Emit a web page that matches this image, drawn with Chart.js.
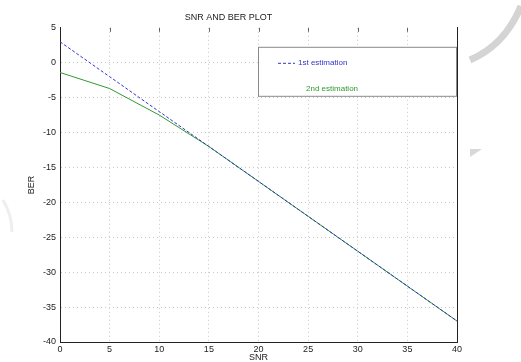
<!DOCTYPE html>
<html>
<head>
<meta charset="utf-8">
<script src="https://cdn.jsdelivr.net/npm/chart.js@4/dist/chart.umd.min.js"></script>
<style>
  html, body { margin: 0; padding: 0; background: #fff; }
  #wrap { width: 521px; height: 362px; }
</style>
</head>
<body>
<div id="wrap"><canvas id="berChart"></canvas></div>
<script>
const snr = [0, 5, 10, 15, 20, 25, 30, 35, 40];
const firstEst = [3, -2, -7, -12, -17, -22, -27, -32, -37];
const secondEst = [-1.4, -3.7, -7.5, -12, -17, -22, -27, -32, -37];
const seriesNames = ["1st estimation", "2nd estimation"];

const FONT = "'Liberation Sans', Arial, sans-serif";
const GRID = "#c8c8c8";

// faint scanned-page watermark behind the plot
const watermark = {
  id: "watermark",
  beforeDraw(chart) {
    const c = chart.ctx;
    c.save();
    c.fillStyle = "#fff";
    c.fillRect(0, 0, chart.width, chart.height);
    c.strokeStyle = "#d4d4d4";
    c.lineWidth = 7;
    c.beginPath();
    c.moveTo(470, 60);
    c.quadraticCurveTo(505, 45, 521, 6);
    c.stroke();
    c.fillStyle = "#d8d8d8";
    c.beginPath();
    c.moveTo(470, 149); c.lineTo(482, 149); c.lineTo(470, 157);
    c.fill();
    c.strokeStyle = "#eeeeee";
    c.lineWidth = 3;
    c.beginPath();
    c.moveTo(3, 200); c.quadraticCurveTo(12, 215, 12, 232);
    c.stroke();
    c.restore();
  }
};

// matlab style boxed legend, top right inside plot
const boxLegend = {
  id: "boxLegend",
  afterDatasetsDraw(chart) {
    const c = chart.ctx, a = chart.chartArea;
    const x0 = a.left + 198, y0 = a.top + 19, w = a.right - x0 - 1, h = 49;
    c.save();
    c.fillStyle = "#fff";
    c.fillRect(x0, y0, w, h);
    c.strokeStyle = "#8a8a8a";
    c.lineWidth = 1;
    c.strokeRect(x0 + 0.5, y0 + 0.5, w, h);
    c.font = "8px " + FONT;
    c.textBaseline = "middle";
    const ds = chart.data.datasets;
    // 1st
    c.strokeStyle = ds[0].borderColor;
    c.setLineDash([3, 2]);
    c.beginPath();
    c.moveTo(x0 + 20, y0 + 16.5); c.lineTo(x0 + 37, y0 + 16.5);
    c.stroke();
    c.fillStyle = ds[0].borderColor;
    c.fillText(ds[0].label, x0 + 40, y0 + 16);
    // 2nd (sample line faded out in the scan)
    c.fillStyle = ds[1].borderColor;
    c.fillText(ds[1].label, x0 + 48, y0 + 42);
    c.restore();
  }
};

// small inward tick marks along the top edge
const topTicks = {
  id: "topTicks",
  afterDraw(chart) {
    const c = chart.ctx, a = chart.chartArea, xs = chart.scales.x;
    c.save();
    c.strokeStyle = "#666";
    c.lineWidth = 1;
    snr.forEach(v => {
      if (v === 0 || v === 40) return;
      const px = Math.round(xs.getPixelForValue(v)) + 0.5;
      c.beginPath();
      c.moveTo(px, a.top); c.lineTo(px, a.top + 4);
      c.stroke();
    });
    c.restore();
  }
};

new Chart(document.getElementById("berChart"), {
  type: "line",
  data: {
    labels: snr,
    datasets: [
      {
        label: seriesNames[0],
        data: snr.map((x, i) => ({ x, y: firstEst[i] })),
        borderColor: "#3333cc",
        borderWidth: 1,
        borderDash: [3, 2],
        pointRadius: 0,
        tension: 0,
        fill: false
      },
      {
        label: seriesNames[1],
        data: snr.map((x, i) => ({ x, y: secondEst[i] })),
        borderColor: "#339933",
        borderWidth: 1,
        pointRadius: 0,
        tension: 0,
        fill: false
      }
    ]
  },
  options: {
    responsive: true,
    maintainAspectRatio: false,
    animation: false,
    layout: { padding: { left: 0, right: 64, top: 0, bottom: 0 } },
    plugins: {
      legend: { display: false },
      tooltip: { enabled: false },
      title: {
        display: true,
        text: "SNR AND BER PLOT",
        color: "#222",
        font: { family: FONT, size: 9, weight: "normal" },
        padding: { top: 12, bottom: 5 }
      }
    },
    scales: {
      x: {
        type: "linear",
        min: 0, max: 40,
        ticks: { stepSize: 5, color: "#222", padding: 2, maxRotation: 0,
                 font: { family: FONT, size: 9 } },
        grid: { color: ctx => (ctx.tick && (ctx.tick.value === 0 || ctx.tick.value === 40)) ? "rgba(0,0,0,0)" : GRID,
                drawTicks: false },
        border: { color: "#222", width: 1, dash: [1, 3] },
        title: { display: true, text: "SNR", color: "#222", padding: { top: 0, bottom: -1 },
                 font: { family: FONT, size: 9 } },
        afterFit(s) { s.height = 20; }
      },
      y: {
        min: -40, max: 5,
        ticks: { stepSize: 5, color: "#222", padding: 4,
                 font: { family: FONT, size: 9 } },
        grid: { color: ctx => (ctx.tick && (ctx.tick.value === 5 || ctx.tick.value === -40)) ? "rgba(0,0,0,0)" : GRID,
                drawTicks: false },
        border: { color: "#222", width: 1, dash: [1, 3] },
        title: { display: true, text: "BER", color: "#222",
                 padding: { top: 26, bottom: 0 },
                 font: { family: FONT, size: 9 } },
        afterFit(s) { s.width = 60; }
      },
      y2: {
        position: "right",
        min: -40, max: 5,
        ticks: { display: false },
        grid: { display: false, drawTicks: false },
        border: { color: "#222", width: 1 },
        afterFit(s) { s.width = 0; }
      }
    }
  },
  plugins: [watermark, boxLegend, topTicks]
});
</script>
</body>
</html>
